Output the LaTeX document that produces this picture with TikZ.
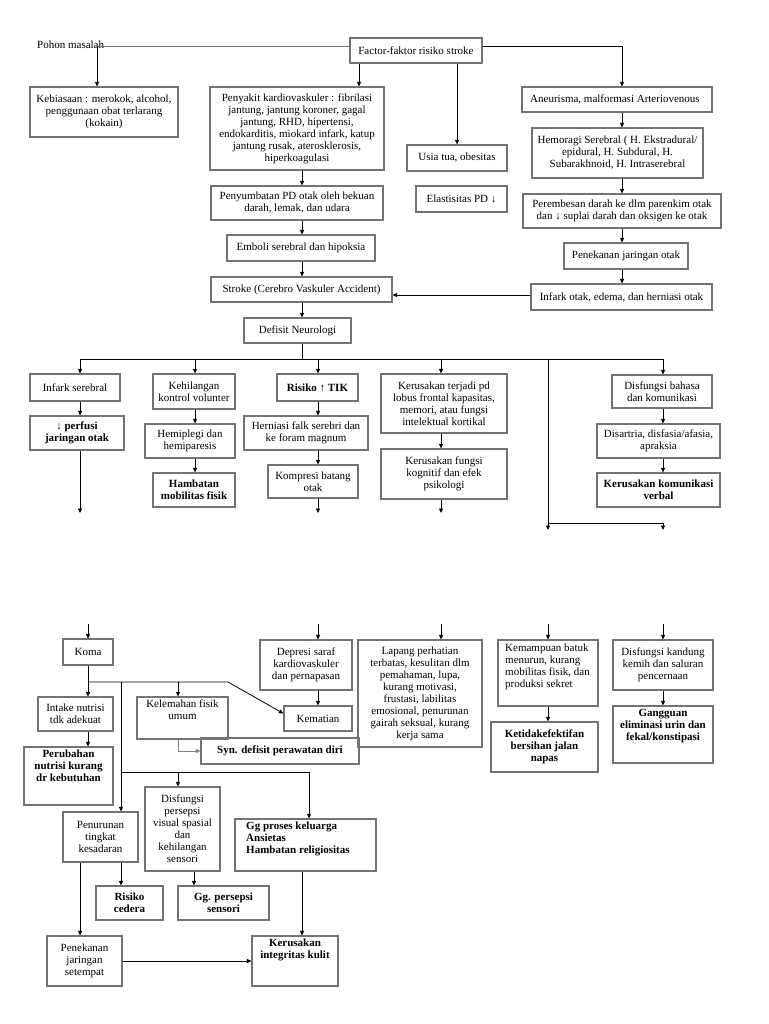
\documentclass[tikz,border=0pt]{standalone}
\usepackage{fontspec}
\setmainfont{Liberation Serif}
\usetikzlibrary{arrows.meta}
\tikzset{
  fnt/.style={font=\fontsize{11}{12}\selectfont},
  B/.style={font=\fontsize{11}{12}\selectfont\bfseries},
  box/.style={draw=black!55, line width=1.1pt, inner sep=1pt, align=center, fnt},
  txt/.style={inner sep=0pt, align=center, fnt},
  ln/.style={line width=0.8pt, draw=black},
  arr/.style={ln, -{Triangle[length=4.5pt,width=4pt]}},
}
% centred box: [opts]{name}{x1}{y1}{x2}{y2}{text}
\newcommand\bx[7][]{\node[box,minimum width={(#5-(#3))*1pt},minimum height={(#6-(#4))*1pt},#1] (#2) at ({(#3+#5)/2},{(#4+#6)/2}) {#7};}
% box with placed text: {name}{x1}{y1}{x2}{y2}{tx}{ty}{opts}{text}
\newcommand\bxp[9]{\node[box,minimum width={(#4-(#2))*1pt},minimum height={(#5-(#3))*1pt}] (#1) at ({(#2+#4)/2},{(#3+#5)/2}) {};
  \node[txt,#8] (#1-t) at (#6,#7) {#9};}
\begin{document}
\begin{tikzpicture}[x=1pt,y=-1pt]
\useasboundingbox (0,0) rectangle (768,1024);
% column / level coordinates
\foreach \c in {80,88,97,121,178,194,195,228,302,309,318,359,441,457,548,622,663}{\coordinate (X\c) at (\c,0);}
\foreach \r in {46,295,359,513,523,530,624,682,772}{\coordinate (Y\r) at (0,\r);}

% ---------- top part ----------
\node[txt,anchor=west] (pohon) at (37,45) {Pohon masalah};
\bx{factor}{350}{38}{482}{63}{Factor-faktor risiko stroke}
\bx{kebiasaan}{30}{87}{178}{137}{Kebiasaan : merokok, alcohol,\\ penggunaan obat terlarang\\ (kokain)}
\bx{penyakit}{210}{87}{384}{170}{Penyakit kardiovaskuler : fibrilasi\\ jantung, jantung koroner, gagal\\ jantung, RHD, hipertensi,\\ endokarditis, miokard infark, katup\\ jantung rusak, aterosklerosis,\\ hiperkoagulasi}
\bx{usia}{407}{145}{507}{171}{Usia tua, obesitas}
\bx{elastis}{416}{186}{507}{212}{Elastisitas PD ↓}
\bxp{aneur}{522}{87}{712}{112}{530}{99.5}{anchor=west}{Aneurisma, malformasi Arteriovenous}
\bx{hemo}{532}{128}{703}{178}{Hemoragi Serebral ( H. Ekstradural/\\ epidural, H. Subdural, H.\\ Subarakhnoid, H. Intraserebral}
\bx{perem}{523}{194}{721}{228}{Perembesan darah ke dlm parenkim otak\\ dan ↓ suplai darah dan oksigen ke otak}
\bx{penek}{564}{243}{688}{269}{Penekanan jaringan otak}
\bx{infark}{531}{284}{712}{310}{Infark otak, edema, dan herniasi otak}
\bx{penyum}{211}{186}{383}{220}{Penyumbatan PD otak oleh bekuan\\ darah, lemak, dan udara}
\bx{emboli}{227}{235}{375}{261}{Emboli serebral dan hipoksia}
\bx{stroke}{211}{277}{392}{302}{Stroke (Cerebro Vaskuler Accident)}
\bx{defisit}{244}{318}{351}{343}{Defisit Neurologi}

% ---------- second row ----------
\bx{infser}{30}{374}{120}{401}{Infark serebral}
\bx[B]{perfusi}{30}{416}{124}{450}{↓ perfusi\\ jaringan otak}
\bx{kehil}{153}{374}{235}{409}{Kehilangan\\ kontrol volunter}
\bx{hemip}{145}{424}{235}{458}{Hemiplegi dan\\ hemiparesis}
\bx[B]{hambmob}{153}{473}{235}{507}{Hambatan\\ mobilitas fisik}
\bx[B]{tik}{277}{374}{358}{401}{Risiko ↑ TIK}
\bx{hern}{244}{416}{368}{450}{Herniasi falk serebri dan\\ ke foram magnum}
\bx{kompresi}{268}{465}{358}{498}{Kompresi batang\\ otak}
\bx{lobus}{381}{374}{507}{433}{Kerusakan terjadi pd\\ lobus frontal kapasitas,\\ memori, atau fungsi\\ intelektual kortikal}
\bx{kogn}{381}{449}{507}{499}{Kerusakan fungsi\\ kognitif dan efek\\ psikologi}
\bx{disbah}{612}{375}{712}{408}{Disfungsi bahasa\\ dan komunikasi}
\bx{disart}{597}{424}{720}{458}{Disartria, disfasia/afasia,\\ apraksia}
\bx[B]{kerkom}{597}{473}{720}{507}{Kerusakan komunikasi\\ verbal}

% ---------- bottom part ----------
\bx{koma}{63}{639}{113}{665}{Koma}
\bx{depresi}{260}{640}{352}{690}{Depresi saraf\\ kardiovaskuler\\ dan pernapasan}
\bx{kematian}{284}{706}{352}{731}{Kematian}
\bx{lapang}{358}{640}{482}{747}{Lapang perhatian\\ terbatas, kesulitan dlm\\ pemahaman, lupa,\\ kurang motivasi,\\ frustasi, labilitas\\ emosional, penurunan\\ gairah seksual, kurang\\ kerja sama}
\bxp{kemamp}{498}{640}{598}{706}{505}{644}{anchor=north west,align=left}{Kemampuan batuk\\ menurun, kurang\\ mobilitas fisik, dan\\ produksi sekret}
\bx[B]{ketidak}{491}{722}{598}{772}{Ketidakefektifan\\ bersihan jalan\\ napas}
\bx{kandung}{613}{640}{713}{690}{Disfungsi kandung\\ kemih dan saluran\\ pencernaan}
\bxp{gangg}{613}{706}{713}{763}{663}{709}{anchor=north,B}{Gangguan\\ eliminasi urin dan\\ fekal/konstipasi}
\bx{intake}{38}{697}{113}{731}{Intake nutrisi\\ tdk adekuat}
\bxp{perubahan}{24}{747}{113}{805}{68.5}{750}{anchor=north,B}{Perubahan\\ nutrisi kurang\\ dr kebutuhan}
\bxp{kelemahan}{137}{697}{228}{739}{182.5}{700}{anchor=north}{Kelemahan fisik\\ umum}
\bx[B]{syn}{201}{738}{359}{764}{Syn. defisit perawatan diri}
\bx{penurunan}{63}{812}{138}{862}{Penurunan\\ tingkat\\ kesadaran}
\bx{dispers}{145}{787}{220}{871}{Disfungsi\\ persepsi\\ visual spasial\\ dan\\ kehilangan\\ sensori}
\bxp{ggproses}{235}{819}{376}{871}{246}{822}{anchor=north west,align=left,B}{Gg proses keluarga\\ Ansietas\\ Hambatan religiositas}
\bx[B]{risiko}{96}{886}{163}{920}{Risiko\\ cedera}
\bx[B]{ggpers}{178}{886}{269}{920}{Gg. persepsi\\ sensori}
\bx{penekanan}{47}{936}{122}{986}{Penekanan\\ jaringan\\ setempat}
\bxp{kerint}{252}{936}{338}{986}{295}{939}{anchor=north,B}{Kerusakan\\ integritas kulit}

% ---------- connectors: top ----------
\draw[ln,draw=black!55] (X97|-Y46) -- (factor.west|-Y46);
\draw[arr] (X97|-Y46) -- (X97|-kebiasaan.north);
\draw[arr] (X359|-factor.south) -- (X359|-penyakit.north);
\draw[arr] (X457|-factor.south) -- (X457|-usia.north);
\draw[arr] (factor.east|-Y46) -| (X622|-aneur.north);
\draw[arr] (X622|-aneur.south) -- (X622|-hemo.north);
\draw[arr] (X622|-hemo.south) -- (X622|-perem.north);
\draw[arr] (X622|-perem.south) -- (X622|-penek.north);
\draw[arr] (X622|-penek.south) -- (X622|-infark.north);
\draw[arr] (infark.west|-Y295) -- (stroke.east|-Y295);
\draw[arr] (X302|-penyakit.south) -- (X302|-penyum.north);
\draw[arr] (X302|-penyum.south) -- (X302|-emboli.north);
\draw[arr] (X302|-emboli.south) -- (X302|-stroke.north);
\draw[arr] (X302|-stroke.south) -- (X302|-defisit.north);
\draw[ln] (X302|-defisit.south) -- (X302|-Y359);
\draw[ln] (X80|-Y359) -- (X663|-Y359);
\draw[arr] (X80|-Y359) -- (X80|-infser.north);
\draw[arr] (X195|-Y359) -- (X195|-kehil.north);
\draw[arr] (X318|-Y359) -- (X318|-tik.north);
\draw[arr] (X441|-Y359) -- (X441|-lobus.north);
\draw[arr] (X663|-Y359) -- (X663|-disbah.north);
\draw[arr] (X548|-Y359) -- (X548|-Y530);
\draw[arr] (X548|-Y523) -| (X663|-Y530);
% column chains
\draw[arr] (X80|-infser.south) -- (X80|-perfusi.north);
\draw[arr] (X80|-perfusi.south) -- (X80|-Y513);
\draw[arr] (X195|-kehil.south) -- (X195|-hemip.north);
\draw[arr] (X195|-hemip.south) -- (X195|-hambmob.north);
\draw[arr] (X318|-tik.south) -- (X318|-hern.north);
\draw[arr] (X318|-hern.south) -- (X318|-kompresi.north);
\draw[arr] (X318|-kompresi.south) -- (X318|-Y513);
\draw[arr] (X441|-lobus.south) -- (X441|-kogn.north);
\draw[arr] (X441|-kogn.south) -- (X441|-Y513);
\draw[arr] (X663|-disbah.south) -- (X663|-disart.north);
\draw[arr] (X663|-disart.south) -- (X663|-kerkom.north);

% ---------- connectors: bottom ----------
\draw[arr] (X88|-Y624) -- (X88|-koma.north);
\draw[arr] (X318|-Y624) -- (X318|-depresi.north);
\draw[arr] (X441|-Y624) -- (X441|-lapang.north);
\draw[arr] (X548|-Y624) -- (X548|-kemamp.north);
\draw[arr] (X663|-Y624) -- (X663|-kandung.north);
\draw[arr] (X318|-depresi.south) -- (X318|-kematian.north);
\draw[arr] (X548|-kemamp.south) -- (X548|-ketidak.north);
\draw[arr] (X663|-kandung.south) -- (X663|-gangg.north);
\draw[arr] (X88|-koma.south) -- (X88|-intake.north);
\draw[arr] (X88|-intake.south) -- (X88|-perubahan.north);
\draw[arr] (X88|-Y682) -- (X228|-Y682) -- ([yshift=5pt]kematian.west);
\draw[arr] (X178|-Y682) -- (X178|-kelemahan.north);
\draw[arr,draw=black!50] (X178|-kelemahan.south) |- (syn.west);
\draw[arr] (X121|-Y682) -- (X121|-penurunan.north);
\draw[ln] (X121|-Y772) -- (X309|-Y772);
\draw[arr] (X178|-Y772) -- (X178|-dispers.north);
\draw[arr] (X309|-Y772) -- (X309|-ggproses.north);
\draw[arr] (X121|-penurunan.south) -- (X121|-risiko.north);
\draw[arr] (X80|-penurunan.south) -- (X80|-penekanan.north);
\draw[arr] (X194|-dispers.south) -- (X194|-ggpers.north);
\draw[arr] (X302|-ggproses.south) -- (X302|-kerint.north);
\draw[arr] (penekanan.east) -- (kerint.west);
\end{tikzpicture}
\end{document}
